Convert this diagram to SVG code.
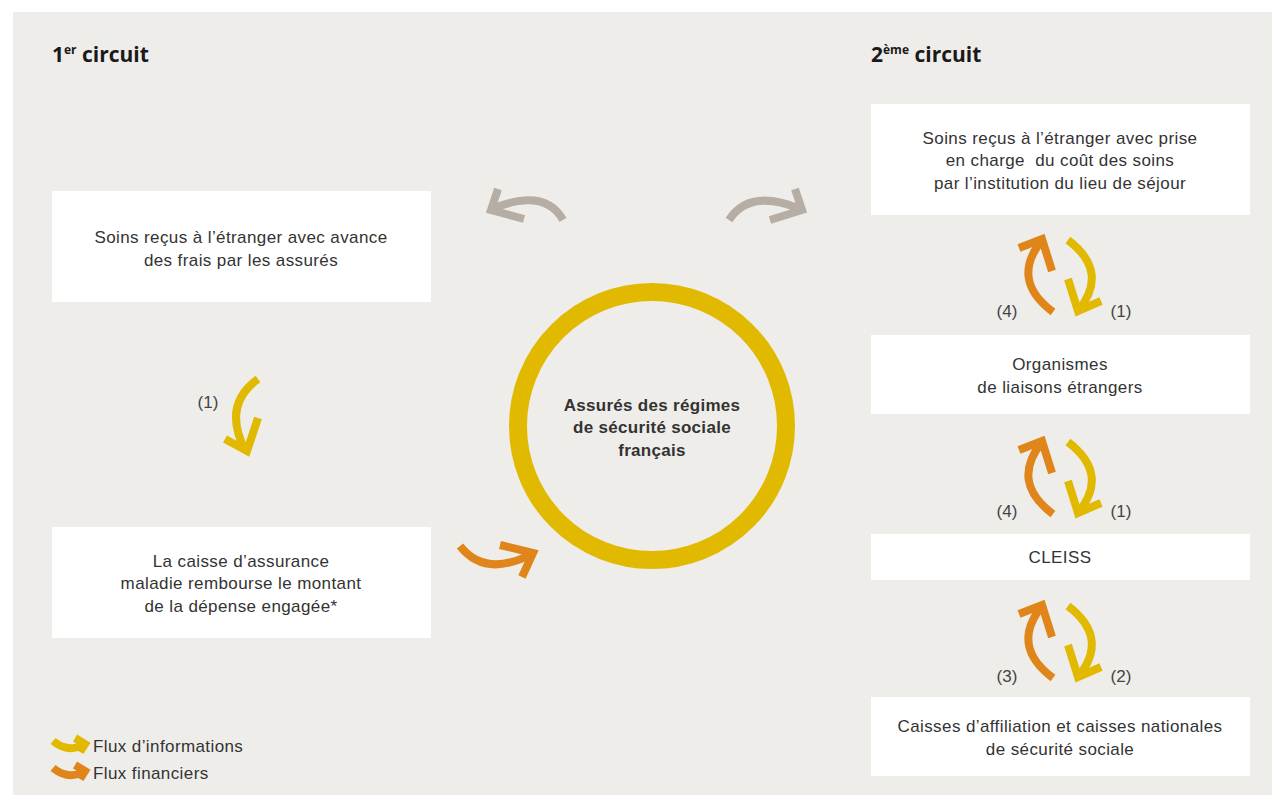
<svg xmlns="http://www.w3.org/2000/svg" width="1272" height="795" viewBox="0 0 1272 795">
  <style>
    .bg { fill: #efedea; }
    .box { fill: #ffffff; }
    .t { font-family: "Liberation Sans", Arial, sans-serif; font-size: 17px; letter-spacing: 0.4px; fill: #333333; text-anchor: middle; }
    .lbl { font-family: "Liberation Sans", Arial, sans-serif; font-size: 17px; fill: #444444; text-anchor: middle; }
    .leg { font-family: "Liberation Sans", Arial, sans-serif; font-size: 17px; letter-spacing: 0.4px; fill: #333333; }
    .title { font-family: "Open Sans", "Liberation Sans", sans-serif; font-size: 21px; font-weight: bold; fill: #1a1a1a; }
    .sup { font-size: 12px; }
    .ctr { font-family: "Liberation Sans", Arial, sans-serif; font-size: 17px; font-weight: bold; letter-spacing: 0.3px; fill: #333333; text-anchor: middle; }
    .arr { fill: none; stroke-width: 8; stroke-linecap: butt; stroke-linejoin: miter; }
    .info { stroke: #e1b900; }
    .fin { stroke: #e0851a; }
    .grey { stroke: #b6ada4; }
  </style>

  <rect class="bg" x="13" y="12" width="1259" height="783"/>

  <text class="title" x="52" y="62">1<tspan class="sup" dy="-8">er</tspan><tspan dy="8"> circuit</tspan></text>
  <text class="title" x="871" y="62">2<tspan class="sup" dy="-8">ème</tspan><tspan dy="8"> circuit</tspan></text>

  <g id="centre">
    <circle cx="652" cy="426" r="134" fill="none" stroke="#e1b900" stroke-width="18"/>
    <text class="ctr" x="652" y="411">Assurés des régimes</text>
    <text class="ctr" x="652" y="433">de sécurité sociale</text>
    <text class="ctr" x="652" y="456">français</text>
  </g>

  <g id="avance">
    <rect class="box" x="52" y="191" width="379" height="111"/>
    <text class="t" x="241" y="243">Soins reçus à l’étranger avec avance</text>
    <text class="t" x="241" y="266">des frais par les assurés</text>
  </g>

  <g id="remboursement">
    <rect class="box" x="52" y="527" width="379" height="111"/>
    <text class="t" x="241" y="567">La caisse d’assurance</text>
    <text class="t" x="241" y="589">maladie rembourse le montant</text>
    <text class="t" x="241" y="612">de la dépense engagée*</text>
  </g>

  <g id="prise-en-charge">
    <rect class="box" x="871" y="104" width="379" height="111"/>
    <text class="t" x="1060" y="144">Soins reçus à l’étranger avec prise</text>
    <text class="t" x="1060" y="166" xml:space="preserve">en charge  du coût des soins</text>
    <text class="t" x="1060" y="189">par l’institution du lieu de séjour</text>
  </g>

  <g id="organismes">
    <rect class="box" x="871" y="335" width="379" height="79"/>
    <text class="t" x="1060" y="370">Organismes</text>
    <text class="t" x="1060" y="393">de liaisons étrangers</text>
  </g>

  <g id="cleiss">
    <rect class="box" x="871" y="534" width="379" height="46"/>
    <text class="t" x="1060" y="563">CLEISS</text>
  </g>

  <g id="caisses">
    <rect class="box" x="871" y="697" width="379" height="79"/>
    <text class="t" x="1060" y="732">Caisses d’affiliation et caisses nationales</text>
    <text class="t" x="1060" y="755">de sécurité sociale</text>
  </g>

  <g id="connectors">
    <!-- grey arrows out of the centre -->
    <path class="arr grey" d="M563,220 Q545,188 494,208"/>
    <path class="arr grey" d="M498,189 L491,210 L524,219"/>
    <path class="arr grey" d="M729,220 Q750,188 800,209"/>
    <path class="arr grey" d="M795,189 L802,210 L770,220"/>

    <!-- first circuit -->
    <path class="arr info" d="M258,379 Q222,405 245,450"/>
    <path class="arr info" d="M225,439 L247,451 L258,418"/>
    <path class="arr fin" d="M460,546 Q485,578 532,554"/>
    <path class="arr fin" d="M500,545 L533,553 L522,577"/>

    <!-- second circuit, pair 1 -->
    <path class="arr fin" d="M1053,312 Q1010,280 1042,240"/>
    <path class="arr fin" d="M1019,248 L1042,239 L1052,271"/>
    <path class="arr info" d="M1068,240 Q1110,272 1078,311"/>
    <path class="arr info" d="M1068,279 L1078,311 L1101,301"/>

    <!-- pair 2 -->
    <g transform="translate(0,202)">
      <path class="arr fin" d="M1053,312 Q1010,280 1042,240"/>
      <path class="arr fin" d="M1019,248 L1042,239 L1052,271"/>
      <path class="arr info" d="M1068,240 Q1110,272 1078,311"/>
      <path class="arr info" d="M1068,279 L1078,311 L1101,301"/>
    </g>

    <!-- pair 3 -->
    <g transform="translate(0,366)">
      <path class="arr fin" d="M1053,312 Q1010,280 1042,240"/>
      <path class="arr fin" d="M1019,248 L1042,239 L1052,271"/>
      <path class="arr info" d="M1068,240 Q1110,272 1078,311"/>
      <path class="arr info" d="M1068,279 L1078,311 L1101,301"/>
    </g>

    <text class="lbl" x="208" y="408">(1)</text>
    <text class="lbl" x="1007" y="317">(4)</text>
    <text class="lbl" x="1121" y="317">(1)</text>
    <text class="lbl" x="1007" y="517">(4)</text>
    <text class="lbl" x="1121" y="517">(1)</text>
    <text class="lbl" x="1007" y="682">(3)</text>
    <text class="lbl" x="1121" y="682">(2)</text>
  </g>

  <g id="legende">
    <path class="arr info" d="M53,741 Q68,753 83,745" stroke-width="4"/>
    <path class="arr info" d="M75,738 L85,744 L80,752" stroke-width="3.5"/>
    <text class="leg" x="93" y="752">Flux d’informations</text>
    <path class="arr fin" d="M53,768 Q68,780 83,772" stroke-width="4"/>
    <path class="arr fin" d="M75,765 L85,771 L80,779" stroke-width="3.5"/>
    <text class="leg" x="93" y="779">Flux financiers</text>
  </g>
</svg>
